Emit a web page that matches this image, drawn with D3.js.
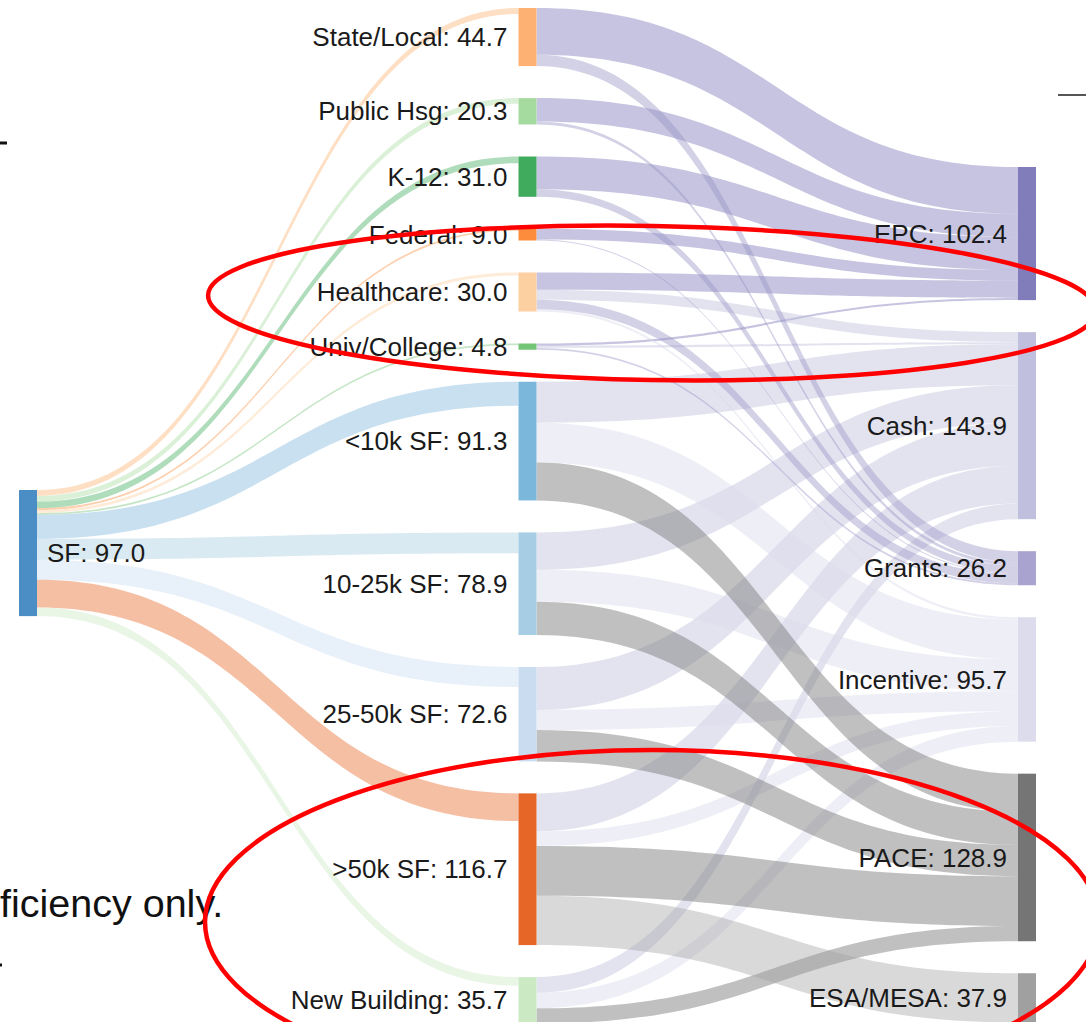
<!DOCTYPE html>
<html>
<head>
<meta charset="utf-8">
<script src="https://cdnjs.cloudflare.com/ajax/libs/d3/7.8.5/d3.min.js"></script>
<style>
  body { margin: 0; background: #fff; }
  svg { display: block; }
  .node-label { font-family: "Liberation Sans", Arial, sans-serif; font-size: 26px; fill: #1a1a1a; }
</style>
</head>
<body>
<script>
// ---- data ----
var rootName = "SF";

var segments = ["State/Local", "Public Hsg", "K-12", "Federal", "Healthcare", "Univ/College",
                "<10k SF", "10-25k SF", "25-50k SF", ">50k SF", "New Building"];
// SF -> segment
var sfFlow = [4.6, 4.3, 5.1, 1.5, 2.3, 1.3, 18.5, 16.0, 15.4, 21.3, 6.7];

var fundings = ["EPC", "Cash", "Grants", "Incentive", "PACE", "ESA/MESA"];
// segment -> funding, one array per funding (same order as segments)
var epcFlow       = [36.0, 18.0, 25.2, 8.2, 13.3, 1.7, 0, 0, 0, 0, 0];
var cashFlow      = [0, 0, 0, 0, 7.7, 1.7, 31.5, 28.8, 33.0, 29.2, 12.0];
var grantsFlow    = [8.7, 2.3, 5.8, 0.8, 7.2, 1.4, 0, 0, 0, 0, 0];
var incentiveFlow = [0, 0, 0, 0, 1.8, 0, 30.6, 24.5, 15.5, 11.3, 12.0];
var paceFlow      = [0, 0, 0, 0, 0, 0, 29.2, 25.6, 24.1, 38.3, 11.7];
var esaFlow       = [0, 0, 0, 0, 0, 0, 0, 0, 0, 37.9, 0];

// colours
var rootColor = "#4a8ec5";
var segmentColors = ["#fdb273", "#a6dba0", "#41ab5d", "#fd8d3c", "#fdd0a2", "#74c476",
                     "#7bb6db", "#a6cde3", "#c9dcf0", "#e66627", "#cbeac4"];
var fundingColors = ["#807dba", "#c0c0de", "#a9a4cf", "#dcdcec", "#757575", "#a0a0a0"];
var fundingLinkColors = ["rgba(128,125,186,0.45)", "rgba(188,189,220,0.42)", "rgba(150,146,196,0.42)",
                         "rgba(218,218,235,0.45)", "rgba(115,115,115,0.45)", "rgba(160,160,160,0.4)"];

// ---- layout ----
var svgWidth = 1086;
var svgHeight = 1022;
var nodeWidth = 18;
var nodePad = 32;
var plotTop = 8;
var plotBottom = 1023.5;
var rootTop = 490;

var svg = d3.select("body")
  .append("svg")
  .attr("width", svgWidth)
  .attr("height", svgHeight);

svg.append("rect").attr("width", svgWidth).attr("height", svgHeight).attr("fill", "#fff");

// nodes
var nodes = [];
nodes.push({ name: rootName, col: 0, idx: 0, color: rootColor, inL: [], outL: [] });
segments.forEach(function(s, i) {
  nodes.push({ name: s, col: 1, idx: i, color: segmentColors[i], inL: [], outL: [] });
});
fundings.forEach(function(f, i) {
  nodes.push({ name: f, col: 2, idx: i, color: fundingColors[i], inL: [], outL: [] });
});
var root = nodes[0];
var segNodes = nodes.slice(1, 1 + segments.length);
var fundNodes = nodes.slice(1 + segments.length);

// links
var links = [];
sfFlow.forEach(function(v, i) {
  var c = d3.color(segmentColors[i]); c.opacity = 0.42;
  links.push({ source: root, target: segNodes[i], value: v, color: c + "" });
});
[epcFlow, cashFlow, grantsFlow, incentiveFlow, paceFlow, esaFlow].forEach(function(arr, j) {
  arr.forEach(function(v, i) {
    if (v > 0) links.push({ source: segNodes[i], target: fundNodes[j], value: v, color: fundingLinkColors[j] });
  });
});
links.forEach(function(l) { l.source.outL.push(l); l.target.inL.push(l); });

nodes.forEach(function(n) {
  n.value = Math.max(d3.sum(n.inL, function(l) { return l.value; }),
                     d3.sum(n.outL, function(l) { return l.value; }));
});

// value -> pixels, sized so the middle column fills the plot height
var colTotal = d3.sum(segNodes, function(n) { return n.value; });
var yScale = d3.scaleLinear()
  .domain([0, colTotal])
  .range([0, (plotBottom - plotTop) - nodePad * (segNodes.length - 1)]);

var xScale = d3.scaleLinear().domain([0, 2]).range([19, 1018]);

function stack(col, top) {
  var y = top;
  col.forEach(function(n) {
    n.x0 = xScale(n.col); n.x1 = n.x0 + nodeWidth;
    n.y0 = y; n.y1 = y + yScale(n.value);
    y = n.y1 + nodePad;
  });
}
stack([root], rootTop);
stack(segNodes, plotTop);
var fundHeight = d3.sum(fundNodes, function(n) { return yScale(n.value); }) + nodePad * (fundNodes.length - 1);
stack(fundNodes, plotBottom - 1 - fundHeight);

// link positions at each end
nodes.forEach(function(n) {
  var y = n.y0;
  n.outL.sort(function(a, b) { return a.target.y0 - b.target.y0; })
    .forEach(function(l) { l.sy0 = y; y += yScale(l.value); l.sy1 = y; });
  y = n.y0;
  n.inL.sort(function(a, b) { return a.source.y0 - b.source.y0; })
    .forEach(function(l) { l.ty0 = y; y += yScale(l.value); l.ty1 = y; });
});

function ribbon(l) {
  var x0 = l.source.x1, x1 = l.target.x0;
  var xm = d3.interpolateNumber(x0, x1)(0.5);
  return "M" + x0 + "," + l.sy0 +
    "C" + xm + "," + l.sy0 + " " + xm + "," + l.ty0 + " " + x1 + "," + l.ty0 +
    "L" + x1 + "," + l.ty1 +
    "C" + xm + "," + l.ty1 + " " + xm + "," + l.sy1 + " " + x0 + "," + l.sy1 + "Z";
}

svg.append("g").attr("class", "links")
  .selectAll("path")
  .data(links)
  .enter()
  .append("path")
  .attr("d", ribbon)
  .attr("fill", function(d) { return d.color; });

svg.append("g").attr("class", "nodes")
  .selectAll("rect")
  .data(nodes)
  .enter()
  .append("rect")
  .attr("x", function(d) { return d.x0; })
  .attr("y", function(d) { return d.y0; })
  .attr("width", nodeWidth)
  .attr("height", function(d) { return Math.max(1, d.y1 - d.y0); })
  .attr("fill", function(d) { return d.color; });

svg.append("g").attr("class", "labels")
  .selectAll("text")
  .data(nodes)
  .enter()
  .append("text")
  .attr("class", "node-label")
  .attr("x", function(d) { return d.col === 0 ? d.x1 + 10 : d.x0 - 11; })
  .attr("y", function(d) { return (d.y0 + d.y1) / 2; })
  .attr("dy", "0.35em")
  .attr("text-anchor", function(d) { return d.col === 0 ? "start" : "end"; })
  .text(function(d) { return d.name + ": " + d.value.toFixed(1); });

// ---- bits of the slide behind the chart ----
svg.append("text")
  .attr("x", 0).attr("y", 917)
  .attr("font-family", "Liberation Sans, Arial, sans-serif")
  .attr("font-size", 39.5).attr("fill", "#111")
  .text("ficiency only.");
svg.append("line").attr("x1", 0).attr("x2", 7).attr("y1", 143).attr("y2", 143)
  .attr("stroke", "#111").attr("stroke-width", 3);
svg.append("line").attr("x1", 1058).attr("x2", 1086).attr("y1", 95).attr("y2", 95)
  .attr("stroke", "#555").attr("stroke-width", 2);
svg.append("line").attr("x1", 0).attr("x2", 2).attr("y1", 965).attr("y2", 965)
  .attr("stroke", "#111").attr("stroke-width", 3);

// ---- red highlight rings ----
svg.append("ellipse")
  .attr("cx", 652).attr("cy", 303).attr("rx", 444).attr("ry", 77)
  .attr("transform", "rotate(1,652,303)")
  .attr("fill", "none").attr("stroke", "#ff0000").attr("stroke-width", 4.5);
svg.append("ellipse")
  .attr("cx", 652).attr("cy", 922).attr("rx", 447).attr("ry", 172)
  .attr("fill", "none").attr("stroke", "#ff0000").attr("stroke-width", 4.5);
</script>
</body>
</html>
